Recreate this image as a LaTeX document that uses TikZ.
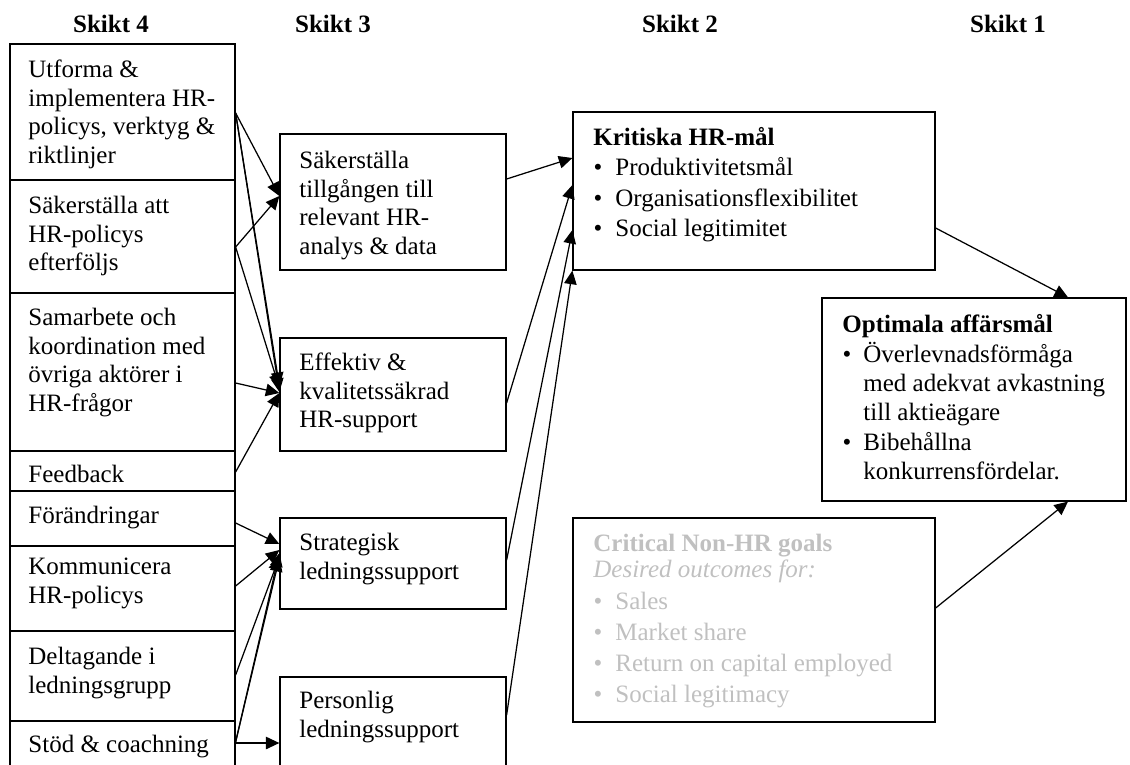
\documentclass[tikz,border=0pt]{standalone}
\usepackage{fontspec}
\setmainfont{Liberation Serif}
\usetikzlibrary{arrows.meta,fit}
\definecolor{nonhr}{RGB}{192,192,192}
\begin{document}
\begin{tikzpicture}[x=0.48pt,y=-0.48pt,
  box/.style={draw, line width=0.6pt, inner sep=0pt},
  txt/.style={anchor=north west, inner sep=0pt, align=left, yshift=9.66pt,
              font=\fontsize{12}{13.8}\selectfont},
  bul/.style={anchor=base, inner sep=0pt, font=\fontsize{12}{13.8}\selectfont},
  hdr/.style={anchor=base, inner sep=0pt, font=\fontsize{12}{13.8}\selectfont\bfseries},
  arr/.style={line width=0.6pt, -{Triangle[length=6.5pt,width=6pt]}}]
\useasboundingbox (0,0) rectangle (1130,764);
\clip (0,0) rectangle (1130,764);

% level headings
\node[hdr] (h4) at (111,32) {Skikt 4};
\node[hdr] (h3) at (333,32) {Skikt 3};
\node[hdr] (h2) at (680,32) {Skikt 2};
\node[hdr] (h1) at (1008,32) {Skikt 1};

% level 4: stacked activity boxes
\node[box, fit={(10,44)(235,180)}] (a1) {};
\node[box, fit={(10,180)(235,293)}] (a2) {};
\node[box, fit={(10,293)(235,451)}] (a3) {};
\node[box, fit={(10,451)(235,491)}] (a4) {};
\node[box, fit={(10,491)(235,546)}] (a5) {};
\node[box, fit={(10,546)(235,631)}] (a6) {};
\node[box, fit={(10,631)(235,721)}] (a7) {};
\node[box, fit={(10,721)(235,800)}] (a8) {};

\node[txt] (ta1) at (28,77) {\strut Utforma \&\\implementera HR-\\policys, verktyg \&\\riktlinjer};
\node[txt] (ta2) at (28,213) {\strut Säkerställa att\\HR-policys\\efterföljs};
\node[txt] (ta3) at (28,325) {\strut Samarbete och\\koordination med\\övriga aktörer i\\HR-frågor};
\node[txt] (ta4) at (28,482) {\strut Feedback};
\node[txt] (ta5) at (28,523) {\strut Förändringar};
\node[txt] (ta6) at (28,574) {\strut Kommunicera\\HR-policys};
\node[txt] (ta7) at (28,664) {\strut Deltagande i\\ledningsgrupp};
\node[txt] (ta8) at (28,752) {\strut Stöd \& coachning};

% level 3: support services
\node[box, fit={(280,134)(506,270)}] (b1) {};
\node[box, fit={(280,338)(506,451)}] (b2) {};
\node[box, fit={(280,518)(506,609)}] (b3) {};
\node[box, fit={(280,677)(506,800)}] (b4) {};

\node[txt] (tb1) at (299,168) {\strut Säkerställa\\tillgången till\\relevant HR-\\analys \& data};
\node[txt] (tb2) at (299,370) {\strut Effektiv \&\\kvalitetssäkrad\\HR-support};
\node[txt] (tb3) at (299,550) {\strut Strategisk\\ledningssupport};
\node[txt] (tb4) at (299,708) {\strut Personlig\\ledningssupport};

% level 2: critical HR goals
\node[box, fit={(573,112)(935,270)}] (k) {};
\node[txt] (kt) at (593,145) {\strut\textbf{Kritiska HR-mål}};
\node[bul] (kb1) at (598,175) {\textbullet};
\node[bul] (kb2) at (598,206) {\textbullet};
\node[bul] (kb3) at (598,236) {\textbullet};
\node[txt] (k1) at (615,175) {\strut Produktivitetsmål};
\node[txt] (k2) at (615,206) {\strut Organisationsflexibilitet};
\node[txt] (k3) at (615,236) {\strut Social legitimitet};

% level 2: critical non-HR goals (greyed out)
\node[box, fit={(573,518)(935,722)}] (c) {};
\begin{scope}[nonhr]
\node[txt] (ct) at (593,551) {\strut\textbf{Critical Non-HR goals}};
\node[txt] (cs) at (593,577) {\strut\textit{Desired outcomes for:}};
\node[bul] (cb1) at (598,609) {\textbullet};
\node[bul] (cb2) at (598,640) {\textbullet};
\node[bul] (cb3) at (598,671) {\textbullet};
\node[bul] (cb4) at (598,702) {\textbullet};
\node[txt] (c1) at (615,609) {\strut Sales};
\node[txt] (c2) at (615,640) {\strut Market share};
\node[txt] (c3) at (615,671) {\strut Return on capital employed};
\node[txt] (c4) at (615,702) {\strut Social legitimacy};
\end{scope}

% level 1: business goals
\node[box, fit={(822,298)(1126,501)}] (o) {};
\node[txt] (ot) at (842,332) {\strut\textbf{Optimala affärsmål}};
\node[bul] (ob1) at (847,362) {\textbullet};
\node[bul] (ob2) at (847,450) {\textbullet};
\node[txt] (o1) at (863,362) {\strut Överlevnadsförmåga\\med adekvat avkastning\\till aktieägare};
\node[txt] (o2) at (863,450) {\strut Bibehållna\\konkurrensfördelar.};

% level 4 -> level 3
\draw[arr] (a1.east |- 0,113) -- (b1.west |- 0,196);
\draw[arr] (a1.east |- 0,113) -- (b2.west |- 0,386);
\draw[arr] (a1.east |- 0,113) -- (b2.west |- 0,392);
\draw[arr] (a2.east |- 0,247) -- (b1.west |- 0,196);
\draw[arr] (a2.east |- 0,247) -- (b2.west |- 0,388);
\draw[arr] (a3.east |- 0,383) -- (b2.west |- 0,393);
\draw[arr] (a4.east |- 0,472) -- (b2.west |- 0,393);
\draw[arr] (a5.east |- 0,523) -- (b3.west |- 0,544);
\draw[arr] (a6.east |- 0,586) -- (b3.west |- 0,550);
\draw[arr] (a7.east |- 0,675) -- (b3.west |- 0,557);
\draw[arr] (a8.east |- 0,742) -- (b3.west |- 0,553);
\draw[arr] (a8.east |- 0,742) -- (b3.west |- 0,558);
\draw[arr] (a8.east |- 0,743) -- (b4.west |- 0,743);

% level 3 -> level 2
\draw[arr] (b1.east |- 0,179) -- (k.west |- 0,158);
\draw[arr] (b2.east |- 0,403) -- (k.west |- 0,185);
\draw[arr] (b3.east |- 0,560) -- (k.west |- 0,230);
\draw[arr] (b4.east |- 0,715) -- (k.south west);

% level 2 -> level 1
\draw[arr] (k.east |- 0,228) -- (o.north -| 1068,0);
\draw[arr] (c.east |- 0,608) -- (o.south -| 1068,0);
\end{tikzpicture}
\end{document}
